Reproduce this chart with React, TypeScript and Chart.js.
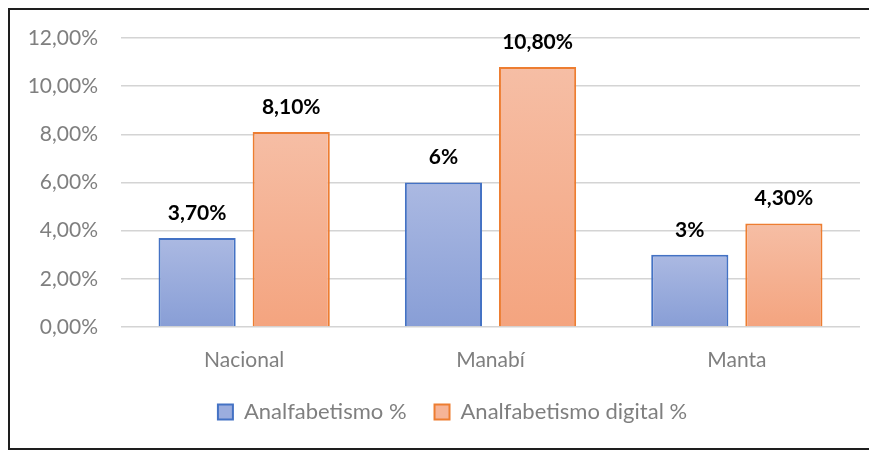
import React, { useEffect, useRef } from "react";
import { Chart, registerables } from "chart.js";

Chart.register(...registerables);

const categories = ["Nacional", "Manabí", "Manta"];
const seriesNames = ["Analfabetismo %", "Analfabetismo digital %"];
const analfabetismo = [3.7, 6, 3];
const analfabetismoDigital = [8.1, 10.8, 4.3];
const analfabetismoLabels = ["3,70%", "6%", "3%"];
const analfabetismoDigitalLabels = ["8,10%", "10,80%", "4,30%"];
const yMin = 0;
const yMax = 12;
const yStep = 2;

const FONT = "Lato, 'Open Sans', sans-serif";

function barGradient(top: string, bottom: string) {
  return (ctx: any) => {
    const chart = ctx.chart;
    const y = chart.scales && chart.scales.y;
    if (ctx.type !== "data" || !y || !chart.chartArea) return bottom;
    const y0 = y.getPixelForValue(ctx.raw);
    const y1 = y.getPixelForValue(0);
    if (!isFinite(y0) || !isFinite(y1) || y0 === y1) return bottom;
    const g = chart.ctx.createLinearGradient(0, y0, 0, y1);
    g.addColorStop(0, top);
    g.addColorStop(1, bottom);
    return g;
  };
}

const valueLabels = [analfabetismoLabels, analfabetismoDigitalLabels];
const legendFills = ["#9badde", "#f6b497"];
const LEGEND_PAD = 28;
const LEGEND_FONT = 22;

const dataLabelPlugin = {
  id: "valueLabels",
  afterLayout(chart: any) {
    const lg = chart.legend;
    if (!lg) return;
    const h = lg.bottom - lg.top;
    const top = 402 - LEGEND_FONT / 2 - LEGEND_PAD;
    lg.top = top;
    lg.bottom = top + h;
    lg.left += 17.5;
    lg.right += 17.5;
  },
  afterDatasetsDraw(chart: any) {
    const ctx = chart.ctx;
    ctx.save();
    ctx.font = `bold 21px ${FONT}`;
    ctx.fillStyle = "#000000";
    ctx.textAlign = "center";
    ctx.textBaseline = "middle";
    chart.data.datasets.forEach((_ds: any, di: number) => {
      const meta = chart.getDatasetMeta(di);
      meta.data.forEach((el: any, i: number) => {
        ctx.fillText(valueLabels[di][i], el.x, el.y - 25);
      });
    });
    ctx.restore();
  },
};

export default function App() {
  const ref = useRef<HTMLCanvasElement | null>(null);

  useEffect(() => {
    if (!ref.current) return;
    const chart = new Chart(ref.current, {
      type: "bar",
      data: {
        labels: categories,
        datasets: [
          {
            label: seriesNames[0],
            data: analfabetismo,
            backgroundColor: barGradient("#abb9e2", "#889ed6"),
            borderColor: "#4472c4",
            borderWidth: 2,
            categoryPercentage: 0.764,
            barPercentage: 0.82,
          },
          {
            label: seriesNames[1],
            data: analfabetismoDigital,
            backgroundColor: barGradient("#f6bea5", "#f4a47f"),
            borderColor: "#ed7d31",
            borderWidth: 2,
            categoryPercentage: 0.764,
            barPercentage: 0.82,
          },
        ],
      },
      options: {
        responsive: false,
        animation: false,
        layout: { padding: { top: 28, right: 17, bottom: 11, left: 0 } },
        plugins: {
          tooltip: { enabled: false },
          legend: {
            position: "bottom",
            labels: {
              boxWidth: 15,
              boxHeight: 15,
              padding: LEGEND_PAD,
              color: "#7f7f7f",
              font: { family: FONT, size: LEGEND_FONT },
              generateLabels: (c: any) =>
                (Chart.defaults.plugins.legend.labels.generateLabels as any)(c).map(
                  (l: any, i: number) => ({ ...l, fillStyle: legendFills[i], lineWidth: 2 })
                ),
            },
          },
        },
        scales: {
          x: {
            grid: { display: false },
            border: { display: false },
            ticks: {
              color: "#7f7f7f",
              padding: 13,
              font: { family: FONT, size: 21 },
            },
            afterFit: (s: any) => {
              s.height = 50;
            },
          },
          y: {
            min: yMin,
            max: yMax,
            grid: { color: "#d4d4d4", lineWidth: 1.5, drawTicks: false },
            border: { display: false },
            ticks: {
              stepSize: yStep,
              padding: 23,
              color: "#7f7f7f",
              font: { family: FONT, size: 21 },
              callback: (v: any) => Number(v).toFixed(2).replace(".", ",") + "%",
            },
            afterFit: (s: any) => {
              s.width = 111;
              s.paddingTop = 13;
              s.paddingBottom = 13;
            },
          },
        },
      },
      plugins: [dataLabelPlugin],
    });
    return () => chart.destroy();
  }, []);

  return (
    <>
      <style>{"html,body{overflow:hidden}"}</style>
      <div
        style={{
          width: 869,
          height: 442,
          boxSizing: "border-box",
          borderLeft: "2px solid #1e1e1e",
          borderTop: "2px solid #1e1e1e",
          borderBottom: "2px solid #1e1e1e",
        }}
      >
        <canvas ref={ref} width={867} height={438} style={{ display: "block" }} />
      </div>
    </>
  );
}
